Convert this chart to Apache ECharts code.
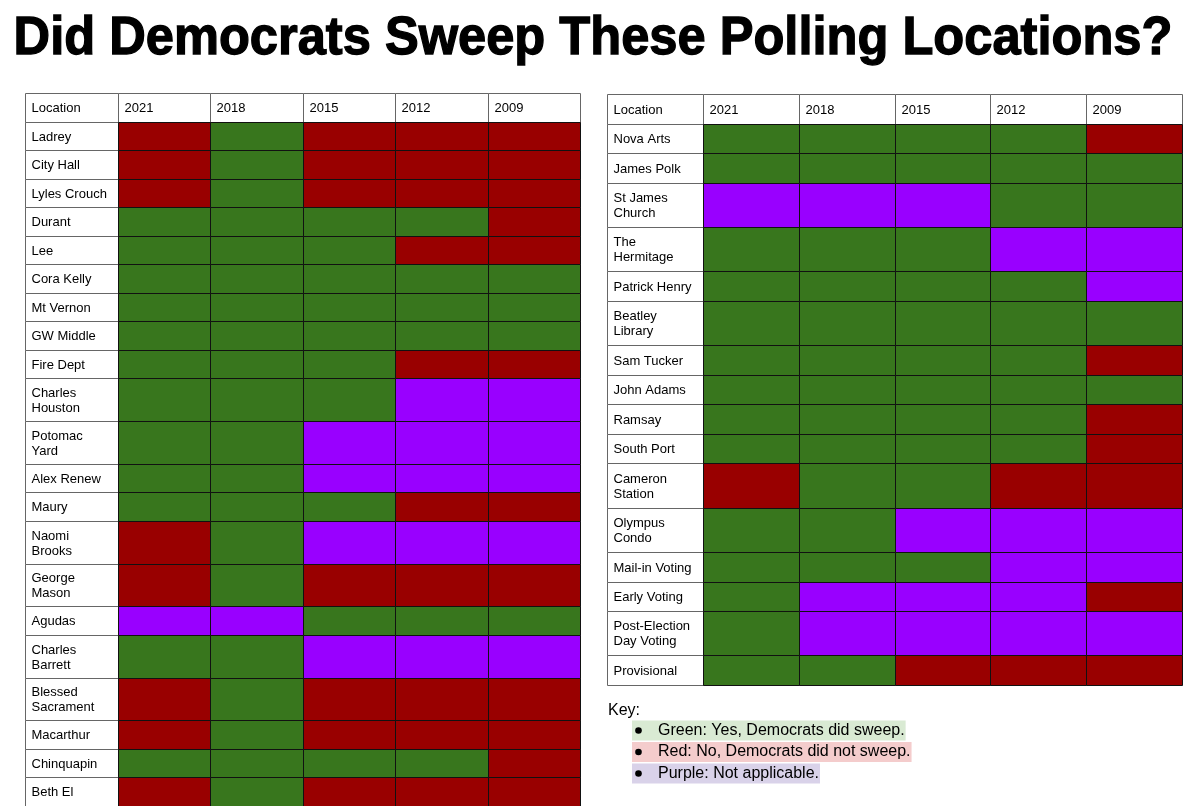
<!DOCTYPE html>
<html><head><meta charset="utf-8">
<script src="https://cdn.jsdelivr.net/npm/echarts@6/dist/echarts.min.js"></script>
<style>html,body{margin:0;padding:0;background:#fff}#c{width:1200px;height:806px}</style>
</head><body><div id="c"></div>
<script>
const title = 'Did Democrats Sweep These Polling Locations?';
const columns = ['Location', '2021', '2018', '2015', '2012', '2009'];
const leftLocations = ['Ladrey', 'City Hall', 'Lyles Crouch', 'Durant', 'Lee', 'Cora Kelly', 'Mt Vernon', 'GW Middle', 'Fire Dept', 'Charles\nHouston', 'Potomac\nYard', 'Alex Renew', 'Maury', 'Naomi\nBrooks', 'George\nMason', 'Agudas', 'Charles\nBarrett', 'Blessed\nSacrament', 'Macarthur', 'Chinquapin', 'Beth El'];
// codes per year 2021,2018,2015,2012,2009 : G = yes, R = no, P = not applicable
const leftStatus = ['RGRRR', 'RGRRR', 'RGRRR', 'GGGGR', 'GGGRR', 'GGGGG', 'GGGGG', 'GGGGG', 'GGGRR', 'GGGPP', 'GGPPP', 'GGPPP', 'GGGRR', 'RGPPP', 'RGRRR', 'PPGGG', 'GGPPP', 'RGRRR', 'RGRRR', 'GGGGR', 'RGRRR'];
const rightLocations = ['Nova Arts', 'James Polk', 'St James\nChurch', 'The\nHermitage', 'Patrick Henry', 'Beatley\nLibrary', 'Sam Tucker', 'John Adams', 'Ramsay', 'South Port', 'Cameron\nStation', 'Olympus\nCondo', 'Mail-in Voting', 'Early Voting', 'Post-Election\nDay Voting', 'Provisional'];
const rightStatus = ['GGGGR', 'GGGGG', 'PPPGG', 'GGGPP', 'GGGGP', 'GGGGG', 'GGGGR', 'GGGGG', 'GGGGR', 'GGGGR', 'RGGRR', 'GGPPP', 'GGGPP', 'GPPPR', 'GPPPP', 'GGRRR'];
const keyTitle = 'Key:';
const keyCodes = ['G', 'R', 'P'];
const keyTexts = ['Green: Yes, Democrats did sweep.', 'Red: No, Democrats did not sweep.', 'Purple: Not applicable.'];

const cellColor = { G: '#38761d', R: '#990000', P: '#9900ff', H: '#ffffff' };
const keyBg = { G: '#d9ead3', R: '#f4cccc', P: '#d9d2e9' };
const FONT = '"Liberation Sans", Arial, sans-serif';

function buildCells(locs, status) {
  const cells = [];
  columns.forEach((c, i) => cells.push({ value: [i, -1, 0], code: 'H', label: c }));
  let y = 0;
  locs.forEach((loc, r) => {
    const h = loc.includes('\n') ? 1.5 : 1;
    cells.push({ value: [0, y, y + h], code: 'H', label: loc });
    status[r].split('').forEach((s, j) => cells.push({ value: [j + 1, y, y + h], code: s, label: '' }));
    y += h;
  });
  return { cells, total: y };
}

function makeRender(cells) {
  return function (params, api) {
    const c = cells[params.dataIndex];
    const col = api.value(0);
    const p0 = api.coord([col, api.value(1)]);
    const p1 = api.coord([col, api.value(2)]);
    const w = api.size([1, 0])[0];
    const x0 = Math.round(p0[0] - w / 2) + 0.5;
    const x1 = Math.round(p0[0] + w / 2) + 0.5;
    const y0 = Math.round(p0[1]) + 0.5;
    const y1 = Math.round(p1[1]) + 0.5;
    const white = c.code === 'H';
    const children = [{
      type: 'rect',
      shape: { x: x0, y: y0, width: x1 - x0, height: y1 - y0 },
      style: { fill: cellColor[c.code], stroke: white ? '#666' : '#111', lineWidth: 1 },
      z2: white ? 1 : 2
    }];
    if (c.label) {
      children.push({
        type: 'text',
        style: {
          x: x0 + 6, y: (y0 + y1) / 2 + 0.5, text: c.label, fill: '#000',
          font: '13px ' + FONT, verticalAlign: 'middle', align: 'left', lineHeight: 15
        },
        z2: 5
      });
    }
    return { type: 'group', children };
  };
}

const L = buildCells(leftLocations, leftStatus);
const R = buildCells(rightLocations, rightStatus);

const graphics = [
  { type: 'text', x: 593, y: 39, scaleX: 0.955, style: { text: title, font: 'bold 53px ' + FONT, fill: '#000', stroke: '#000', lineWidth: 1.3, align: 'center', verticalAlign: 'middle' } },
  { type: 'text', x: 608, y: 710.5, style: { text: keyTitle, font: '16px ' + FONT, fill: '#000', verticalAlign: 'middle' } }
];
keyCodes.forEach((k, i) => {
  const cy = 730.5 + i * 21.5;
  graphics.push({ type: 'text', x: 632, y: cy, style: { text: keyTexts[i], font: '16px ' + FONT, fill: '#000', verticalAlign: 'middle', backgroundColor: keyBg[k], padding: [1, 1, 1, 26], lineHeight: 18 }, z: 1 });
  graphics.push({ type: 'circle', shape: { cx: 638.5, cy: cy, r: 3.3 }, style: { fill: '#000' }, z: 2 });
});

const chart = echarts.init(document.getElementById('c'), null, { renderer: 'canvas' });
chart.setOption({
  animation: false,
  backgroundColor: '#fff',
  grid: [
    { left: 25, top: 93, width: 555, height: 713 },
    { left: 607, top: 94, width: 575, height: 591 }
  ],
  xAxis: [
    { type: 'category', data: columns, gridIndex: 0, show: false },
    { type: 'category', data: columns, gridIndex: 1, show: false }
  ],
  yAxis: [
    { type: 'value', gridIndex: 0, min: -1, max: L.total, inverse: true, show: false },
    { type: 'value', gridIndex: 1, min: -1, max: R.total, inverse: true, show: false }
  ],
  series: [
    { type: 'custom', xAxisIndex: 0, yAxisIndex: 0, data: L.cells, renderItem: makeRender(L.cells), silent: true },
    { type: 'custom', xAxisIndex: 1, yAxisIndex: 1, data: R.cells, renderItem: makeRender(R.cells), silent: true }
  ],
  graphic: graphics
});
</script>
</body></html>
